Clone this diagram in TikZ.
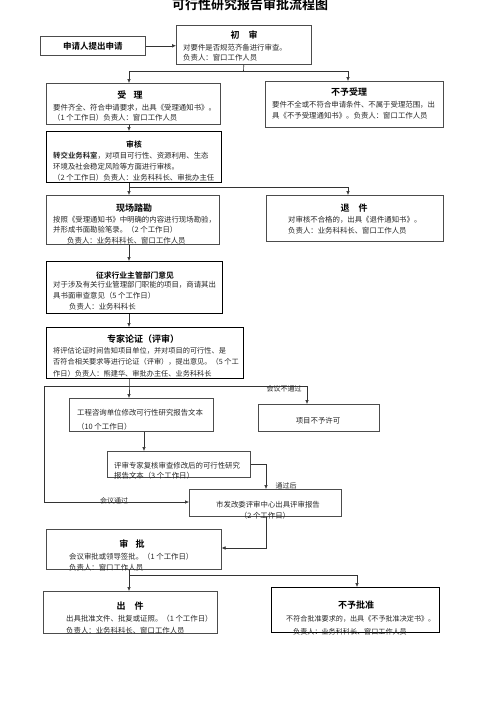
\documentclass[tikz,border=0pt]{standalone}
\usepackage{fontspec}
\setmainfont{Noto Sans CJK SC}[BoldFont={Noto Sans CJK SC Bold}]
\usetikzlibrary{arrows.meta}
\begin{document}
\begin{tikzpicture}[x=1pt,y=-1pt,
  box/.style={draw=black!70, line width=0.6pt, inner sep=0pt, anchor=north west, rectangle},
  tbox/.style={box, draw=black, line width=1pt},
  ttl/.style={font=\fontsize{9}{11}\selectfont\bfseries, inner sep=0pt, anchor=center},
  sttl/.style={font=\fontsize{7.8}{10}\selectfont\bfseries, inner sep=0pt, anchor=center},
  txt/.style={font=\fontsize{7.4}{11}\selectfont, text=black!85, inner sep=0pt, anchor=north west, align=left},
  lbl/.style={font=\fontsize{7}{9}\selectfont, text=black!85, inner sep=0pt, anchor=center},
  ln/.style={draw=black!80, line width=0.6pt},
  arr/.style={ln, -{Latex[length=4pt,width=3.6pt]}}
]
\useasboundingbox (0,0) rectangle (500,707);
\node[font=\fontsize{13}{15}\selectfont\bfseries, inner sep=0pt] (title) at (250,5) {可行性研究报告审批流程图};

% boxes
\node[box, minimum width=105pt, minimum height=19pt] (apply) at (40,36) {};
\node[font=\fontsize{8.5}{10}\selectfont\bfseries, inner sep=0pt] (applyt) at (apply.center) {申请人提出申请};
\node[box, minimum width=135pt, minimum height=39pt] (chushen) at (176,25) {};
\node[box, minimum width=174pt, minimum height=41pt] (shouli) at (46,83) {};
\node[box, minimum width=178pt, minimum height=46pt] (buyu) at (265,81) {};
\node[tbox, minimum width=175pt, minimum height=51pt] (shenhe) at (46,131) {};
\node[box, minimum width=173pt, minimum height=49pt] (xianchang) at (46,195) {};
\node[box, minimum width=177pt, minimum height=46pt] (tuijian) at (266,195) {};
\node[tbox, minimum width=176pt, minimum height=52pt] (zhengqiu) at (46,261) {};
\node[tbox, minimum width=197pt, minimum height=51pt] (zhuanjia) at (46,327) {};
\node[box, minimum width=144pt, minimum height=33pt] (gongcheng) at (69,398) {};
\node[box, minimum width=121pt, minimum height=27pt] (buxuke) at (258,404) {};
\node[box, minimum width=143pt, minimum height=26pt] (fuhe) at (107,451) {};
\node[box, minimum width=152pt, minimum height=27pt] (shifagai) at (189,489) {};
\node[box, minimum width=175pt, minimum height=40pt] (shenpi) at (46,529) {};
\node[box, minimum width=174pt, minimum height=42pt] (chujian) at (43,591) {};
\node[tbox, minimum width=168pt, minimum height=45pt] (buyupizhun) at (271,587) {};

% titles
\node[ttl] (h1) at (244,35) {初\hspace{1em}审};
\node[ttl] (h2) at (130,95) {受\hspace{0.8em}理};
\node[ttl] (h3) at (349,92) {不予受理};
\node[sttl] (h4) at (134,144) {审核};
\node[ttl] (h5) at (134,208) {现场踏勘};
\node[ttl] (h6) at (354,208) {退\hspace{1em}件};
\node[sttl] (h7) at (135,275) {征求行业主管部门意见};
\node[ttl] (h8) at (143,339) {专家论证（评审）};
\node[ttl] (h9) at (132,544) {审\hspace{0.8em}批};
\node[ttl] (h10) at (130,606) {出\hspace{1em}件};
\node[ttl] (h11) at (356,605) {不予批准};

% body texts
\node[txt, font=\fontsize{7.4}{10.5}\selectfont] (b1) at (183,44) {对要件是否规范齐备进行审查。\\负责人：窗口工作人员};
\node[txt, font=\fontsize{7.4}{10}\selectfont] (b2) at (53,104) {要件齐全、符合申请要求，出具《受理通知书》。\\（1 个工作日）负责人：窗口工作人员};
\node[txt] (b3) at (272,101) {要件不全或不符合申请条件、不属于受理范围，出\\具《不予受理通知书》。负责人：窗口工作人员};
\node[txt] (b4) at (53,152) {\textbf{转交业务科室}，对项目可行性、资源利用、生态\\环境及社会稳定风险等方面进行审核。\\（2 个工作日）负责人：业务科科长、审批办主任};
\node[txt, font=\fontsize{7.4}{10.5}\selectfont] (b5) at (53,216) {按照《受理通知书》中明确的内容进行现场勘验，\\并形成书面勘验笔录。（2 个工作日）\\\hspace{14pt}负责人：业务科科长、窗口工作人员};
\node[txt] (b6) at (288,216) {对审核不合格的，出具《退件通知书》。\\负责人：业务科科长、窗口工作人员};
\node[txt] (b7) at (53,281) {对于涉及有关行业管理部门职能的项目，商请其出\\具书面审查意见（5 个工作日）\\\hspace{16pt}负责人：业务科科长};
\node[txt, font=\fontsize{7.2}{11.5}\selectfont] (b8) at (53,347) {将评估论证时间告知项目单位，并对项目的可行性、是\\否符合相关要求等进行论证（评审），提出意见。（5 个工\\作日）负责人：熊建华、审批办主任、业务科科长};
\node[txt, font=\fontsize{7.4}{14}\selectfont] (b9) at (77,409) {工程咨询单位修改可行性研究报告文本\\（10 个工作日）};
\node[lbl, font=\fontsize{7.4}{9}\selectfont] (b10) at (318,421) {项目不予许可};
\node[txt, font=\fontsize{7.4}{10}\selectfont] (b11) at (114,462) {评审专家复核审查修改后的可行性研究\\报告文本（3 个工作日）};
\node[txt, align=center, anchor=north, font=\fontsize{7.4}{11}\selectfont] (b12) at (265,501) {\hspace{6pt}市发改委评审中心出具评审报告\\（2 个工作日）};
\node[txt] (b13) at (69,553) {会议审批或领导签批。（1 个工作日）\\负责人：窗口工作人员};
\node[txt, font=\fontsize{7.4}{12}\selectfont] (b14) at (66,615) {出具批准文件、批复或证照。（1 个工作日）\\负责人：业务科科长、窗口工作人员};
\node[txt, font=\fontsize{7.1}{13}\selectfont] (b15) at (286,615) {不符合批准要求的，出具《不予批准决定书》。\\\hspace{7pt}负责人：业务科科长、窗口工作人员};

% junction coordinates
\coordinate (j1) at (243.5,71);
\coordinate (c1) at (129,71);
\coordinate (c2) at (348,71);
\coordinate (c3) at (129,187);
\coordinate (c4) at (348,187);
\coordinate (c5) at (129,386);
\coordinate (c6) at (44,386);
\coordinate (c7) at (307,386);
\coordinate (c8) at (44,502);
\coordinate (c9) at (144,440);
\coordinate (c10) at (266,464);
\coordinate (c11) at (266,548);
\coordinate (c12) at (129,575);
\coordinate (c13) at (357,575);

% connectors
\draw[arr] (apply.east) -- (apply.east -| chushen.west);
\draw[ln] (chushen.south) -- (j1);
\draw[ln] (c1) -- (c2);
\draw[arr] (c1) -- (c1 |- shouli.north);
\draw[arr] (c2) -- (c2 |- buyu.north);
\draw[arr] (c1 |- shouli.south) -- (c1 |- shenhe.north);
\draw[ln] (c1 |- shenhe.south) -- (c3) -- (c4);
\draw[arr] (c3) -- (c3 |- xianchang.north);
\draw[arr] (c4) -- (c4 |- tuijian.north);
\draw[arr] (c1 |- xianchang.south) -- (c1 |- zhengqiu.north);
\draw[arr] (c1 |- zhengqiu.south) -- (c1 |- zhuanjia.north);
\draw[arr] (c1 |- zhuanjia.south) -- (c5) -- (c1 |- gongcheng.north);
\draw[ln] (c6) -- (c7);
\draw[arr] (c7) -- (c7 |- buxuke.north);
\draw[arr] (c6) -- (c8) -- (c8 -| shifagai.west);
\draw[arr] (c9 |- gongcheng.south) -- (c9 |- fuhe.north);
\draw[arr] (fuhe.east |- c10) -- (c10) -- (c10 |- shifagai.north);
\draw[arr] (c11 |- shifagai.south) -- (c11) -- (c11 -| shenpi.east);
\draw[ln] (c1 |- shenpi.south) -- (c12) -- (c13);
\draw[arr] (c12) -- (c12 |- chujian.north);
\draw[arr] (c13) -- (c13 |- buyupizhun.north);

% labels
\node[lbl] (l1) at (284,389) {会议不通过};
\node[lbl] (l2) at (114,501) {会议通过};
\node[lbl] (l3) at (286,486) {通过后};
\end{tikzpicture}
\end{document}
